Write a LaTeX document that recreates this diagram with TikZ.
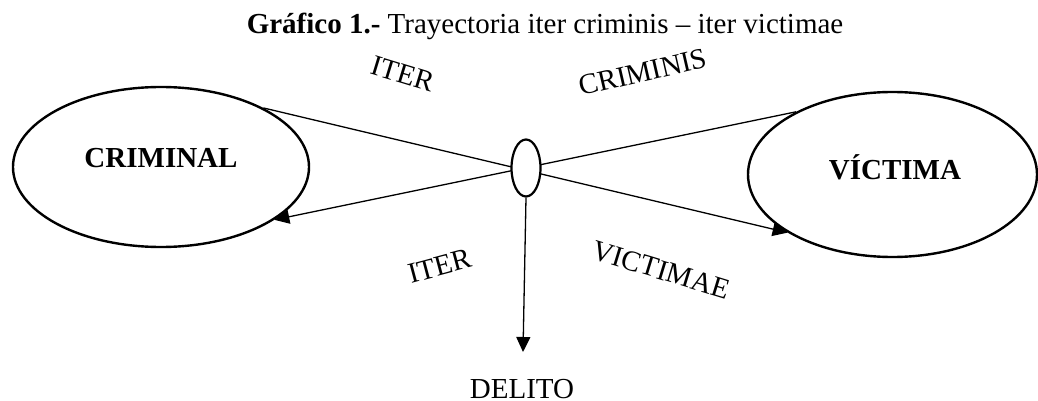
\documentclass[tikz,border=0pt]{standalone}
\usepackage{fontspec}
\setmainfont{Liberation Serif}
\usetikzlibrary{shapes.geometric,arrows.meta,backgrounds}
\begin{document}
\begin{tikzpicture}[x=0.5pt,y=-0.5pt,
  bigell/.style={ellipse,draw,line width=1.2pt,inner sep=0pt,fill=white},
  hub/.style={ellipse,draw,line width=1.1pt,inner sep=0pt,fill=white,minimum width=14.5pt,minimum height=28.5pt},
  txt/.style={font=\fontsize{14.5}{17}\selectfont,inner sep=0pt},
  conn/.style={line width=0.65pt,-{Triangle[length=7.5pt,width=7pt]}}]
\useasboundingbox (0,0) rectangle (1038,401);
\node[txt,anchor=base] (title) at (545,34) {\textbf{Gráfico 1.-} Trayectoria iter criminis – iter victimae};
\node[bigell,minimum width=148pt,minimum height=80pt] (crim) at (161,167) {};
\node[bigell,minimum width=144.5pt,minimum height=82.5pt] (vict) at (892.5,174.5) {};
\node[txt,anchor=base] (crimtxt) at (161,168) {\textbf{CRIMINAL}};
\node[txt,anchor=base] (victtxt) at (895,179) {\textbf{VÍCTIMA}};
\node[hub] (hub) at (526,168) {};
\begin{scope}[on background layer]
\draw[conn] (crim.30.5) -- (vict.209.8);
\draw[conn] (vict.147.8) -- (crim.-25.6);
\end{scope}
\coordinate (deltip) at (523,352);
\draw[conn] (hub.south) -- (deltip);
\node[txt,anchor=base] (delito) at (522,398) {DELITO};
\node[txt,rotate=-17] (iter1) at (403,74) {ITER};
\node[txt,rotate=13] (crimlbl) at (643,72) {CRIMINIS};
\node[txt,rotate=15] (iter2) at (440,266) {ITER};
\node[txt,rotate=-17] (victlbl) at (661,270) {VICTIMAE};
\end{tikzpicture}
\end{document}
